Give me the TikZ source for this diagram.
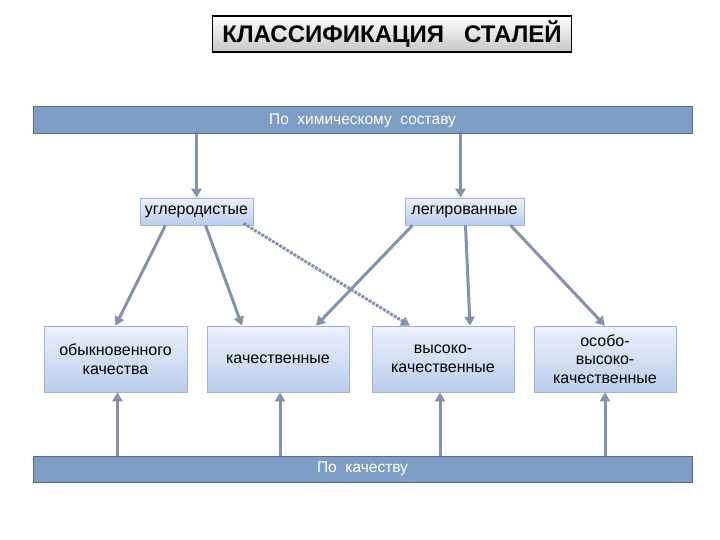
\documentclass[tikz,border=0pt]{standalone}
\usepackage{fontspec}
\setmainfont{Liberation Sans}
\usetikzlibrary{arrows.meta}
\definecolor{barfill}{RGB}{125,157,196}
\definecolor{bardraw}{RGB}{88,108,135}
\definecolor{arrowc}{RGB}{132,146,170}
\definecolor{boxtop}{RGB}{236,241,250}
\definecolor{boxbot}{RGB}{186,204,236}
\definecolor{boxdraw}{RGB}{160,180,215}
\tikzset{
  titlebox/.style={draw=black, line width=1.2pt, top color=white, bottom color=black!22, minimum width=359pt, minimum height=36pt, inner sep=0pt, font=\fontsize{24}{27}\selectfont\bfseries},
  bar/.style={draw=bardraw, line width=1pt, fill=barfill, minimum width=659pt, inner sep=0pt, text=white, font=\fontsize{15.5}{17}\selectfont},
  catbox/.style={draw=boxdraw, line width=0.6pt, top color=boxtop, bottom color=boxbot, inner sep=0pt, align=center, font=\fontsize{16}{18.5}\selectfont},
  conn/.style={draw=arrowc, line width=3pt, -{Triangle[length=9pt,width=10pt]}},
  dconn/.style={conn, dash pattern=on 3pt off 1.2pt}
}
\begin{document}
\begin{tikzpicture}[x=1pt,y=-1pt]
\useasboundingbox (0,0) rectangle (720,540);
\node[titlebox] (title) at (392,34) {КЛАССИФИКАЦИЯ\ \ \ СТАЛЕЙ};
\node[bar, minimum height=27pt] (chem) at (362.5,120.5) {\raisebox{-1pt}{По\ \ химическому\ \ составу}};
\node[catbox, minimum width=113pt, minimum height=27pt] (ug) at (196.5,211.5) {углеродистые};
\node[catbox, minimum width=119pt, minimum height=27pt] (leg) at (464.5,211.5) {легированные};
\node[catbox, minimum width=143pt, minimum height=66pt] (b1) at (115.5,359) {обыкновенного\\качества};
\node[catbox, minimum width=142pt, minimum height=66pt] (b2) at (278,359) {качественные};
\node[catbox, minimum width=142pt, minimum height=66pt] (b3) at (443,359) {высоко-\\качественные};
\node[catbox, minimum width=142pt, minimum height=66pt] (b4) at (605,359) {особо-\\высоко-\\качественные};
\node[bar, minimum height=26pt] (qual) at (362.5,469) {\raisebox{-1pt}{По\ \ качеству}};
% from top bar
\draw[conn] (ug.north |- chem.south) -- (ug.north);
\draw[conn] ([xshift=-4pt]leg.north |- chem.south) -- ([xshift=-4pt]leg.north);
% from carbon
\draw[conn] ([xshift=-31pt]ug.south) -- (b1.north);
\draw[conn] ([xshift=9pt]ug.south) -- ([xshift=-36pt]b2.north);
\draw[dconn] ([xshift=47pt,yshift=2pt]ug.south) -- ([xshift=-33pt]b3.north);
% from alloyed
\draw[conn] ([xshift=-52pt]leg.south) -- ([xshift=38pt]b2.north);
\draw[conn] ([xshift=1pt]leg.south) -- ([xshift=27pt]b3.north);
\draw[conn] ([xshift=46pt]leg.south) -- (b4.north);
% from quality bar
\draw[conn] ([xshift=2pt]b1.south |- qual.north) -- ([xshift=2pt]b1.south);
\draw[conn] ([xshift=2pt]b2.south |- qual.north) -- ([xshift=2pt]b2.south);
\draw[conn] ([xshift=-3pt]b3.south |- qual.north) -- ([xshift=-3pt]b3.south);
\draw[conn] (b4.south |- qual.north) -- (b4.south);
\end{tikzpicture}
\end{document}
